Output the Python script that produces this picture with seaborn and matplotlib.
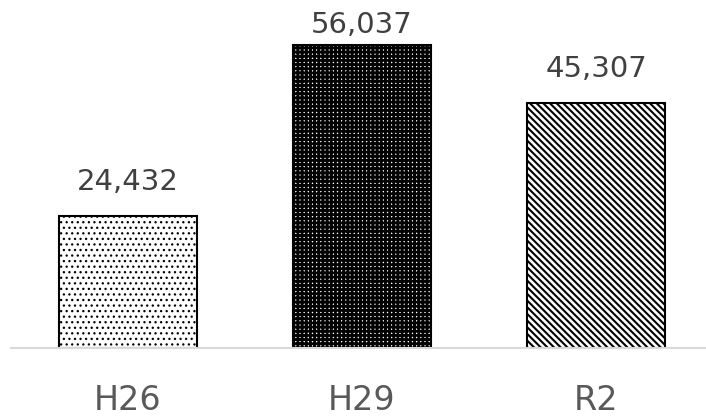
import matplotlib
import numpy as np
import pandas as pd
import seaborn as sns
import matplotlib.pyplot as plt
matplotlib.use('Agg')

# values
categories = ['H26', 'H29', 'R2']
values = [24432, 56037, 45307]
hatches = ['...', '++++', '\\\\\\\\\\']
hatch_widths = [0.9, 2.0, 1.5]

df = pd.DataFrame({'year': categories, 'count': values})

sns.set_style('white')
plt.rcParams['font.family'] = ['DejaVu Sans']
plt.rcParams['hatch.linewidth'] = 1.5

fig = plt.figure(figsize=(7.06, 4.17), dpi=100)
ax = fig.add_axes([11 / 706, 1 - 348 / 417, 702 / 706, 324 / 417])

sns.barplot(data=df, x='year', y='count', color='white',
            edgecolor='black', linewidth=1.5, width=0.59,
            saturation=1, ax=ax)

for patch, h, hw in zip(ax.patches, hatches, hatch_widths):
    patch.set_hatch(h)
    patch.set_facecolor('white')
    if hasattr(patch, 'set_hatch_linewidth'):
        patch.set_hatch_linewidth(hw)

ax.set_ylim(0, 60000)
ax.set_xlim(-0.5, 2.5)

# value labels above the bars, the tallest one squeezed under the top edge
for i, v in enumerate(values):
    y = min(v + 4800, 58300)
    ax.text(i, y, f'{v:,}', ha='center', va='baseline',
            fontsize=21, color='#404040')

for s in ['top', 'right', 'left']:
    ax.spines[s].set_visible(False)
ax.spines['bottom'].set_color('#d9d9d9')
ax.spines['bottom'].set_linewidth(1.5)

ax.set_yticks([])
ax.set_xlabel('')
ax.set_ylabel('')
ax.tick_params(axis='x', length=0, pad=26, labelsize=24, labelcolor='#595959')

fig.savefig('out.png', dpi=100)
